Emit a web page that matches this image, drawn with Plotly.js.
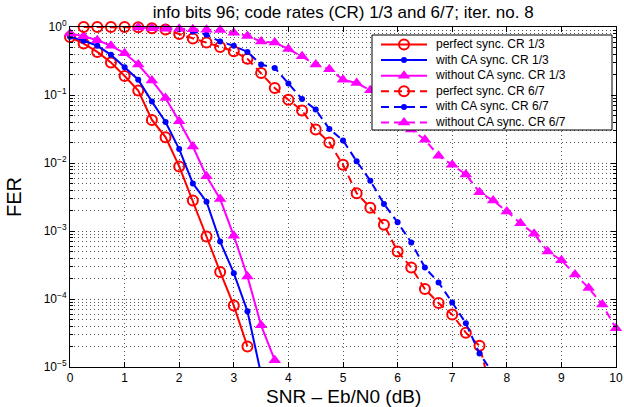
<!DOCTYPE html>
<html>
<head>
<meta charset="utf-8">
<script src="https://cdn.plot.ly/plotly-3.0.1.min.js"></script>
<style>html,body{margin:0;padding:0;background:#fff;}#chart{width:624px;height:407px;}</style>
</head>
<body>
<div id="chart"></div>
<script>
// ---- data (SNR in dB, FER) ----
var snrPerf13 = [0,0.25,0.5,0.75,1,1.25,1.5,1.75,2,2.25,2.5,2.75,3,3.25];
var ferPerf13 = [0.71,0.57,0.43,0.30,0.19,0.116,0.043,0.024,0.0089,0.0028,0.00083,0.00025,0.00008,0.00002];

var snrCA13 = [0,0.25,0.5,0.75,1,1.25,1.5,1.75,2,2.25,2.5,2.75,3,3.25,3.5];
var ferCA13 = [0.72,0.63,0.53,0.39,0.255,0.168,0.08,0.04,0.016,0.005,0.0027,0.0007,0.00024,0.000066,0.0000078];

var snrNoCA13 = [0,0.25,0.5,0.75,1,1.25,1.5,1.75,2,2.25,2.5,2.75,3,3.25,3.5,3.75];
var ferNoCA13 = [0.8,0.73,0.64,0.53,0.41,0.28,0.164,0.09,0.041,0.0175,0.0064,0.00295,0.00085,0.000215,0.000041,0.0000126];

var snrPerf67 = [0.25,0.5,0.75,1,1.25,1.5,1.75,2,2.25,2.5,2.75,3,3.25,3.5,3.75,4,4.25,4.5,4.75,5,5.25,5.5,5.75,6,6.25,6.5,6.75,7,7.25,7.5,7.75];
var ferPerf67 = [1,1,1,1,0.99,0.96,0.92,0.79,0.68,0.59,0.51,0.44,0.34,0.21,0.127,0.085,0.059,0.031,0.02,0.0094,0.0036,0.0022,0.00124,0.0005,0.00029,0.00014,0.000087,0.000059,0.000032,0.0000205,0.0000034];

var snrCA67 = [1.25,1.5,1.75,2,2.25,2.5,2.75,3,3.25,3.5,3.75,4,4.25,4.5,4.75,5,5.25,5.5,5.75,6,6.25,6.5,6.75,7,7.25,7.5,7.75];
var ferCA67 = [1,0.98,0.96,0.93,0.86,0.77,0.61,0.53,0.43,0.28,0.25,0.147,0.087,0.061,0.0316,0.0215,0.0106,0.0055,0.0025,0.00134,0.00068,0.00029,0.000175,0.000089,0.000044,0.0000158,0.000008];

var snrNoCA67 = [1.25,1.5,1.75,2,2.25,2.5,2.75,3,3.25,3.5,3.75,4,4.25,4.5,4.75,5,5.25,5.5,5.75,6,6.25,6.5,6.75,7,7.25,7.5,7.75,8,8.25,8.5,8.75,9,9.25,9.5,9.75,10];
var ferNoCA67 = [0.98,0.96,0.94,0.94,0.93,0.91,0.90,0.82,0.74,0.61,0.59,0.475,0.37,0.28,0.24,0.168,0.15,0.117,0.08,0.05,0.031,0.022,0.0128,0.0094,0.0068,0.0037,0.0028,0.00194,0.0013,0.00091,0.0005,0.00037,0.00023,0.000145,0.000083,0.000037];

var seriesNames = ['perfect sync. CR 1/3','with CA sync. CR 1/3','without CA sync. CR 1/3',
                   'perfect sync. CR 6/7','with CA sync. CR 6/7','without CA sync. CR 6/7'];
var yTickVals = [1e-5,1e-4,1e-3,1e-2,1e-1,1];
var yTickText = ['10<sup>\u22125</sup>','10<sup>\u22124</sup>','10<sup>\u22123</sup>','10<sup>\u22122</sup>','10<sup>\u22121</sup>','10<sup>0</sup>'];
var xTickVals = [0,1,2,3,4,5,6,7,8,9,10];
var titleText = 'info bits 96; code rates (CR) 1/3 and 6/7; iter. no. 8';
var xTitleText = 'SNR \u2013 Eb/N0 (dB)';
var yTitleText = 'FER';

// ---- styles ----
var RED = '#ff0000', BLUE = '#0000ff', MAG = '#ff00ff';
var DASH = '8px,5px';
var mkCircle = {symbol:'circle-open', size:10, color:RED, line:{width:2, color:RED}};
var mkDot = {symbol:'circle', size:6, color:BLUE};
var mkTri = {symbol:'triangle-up', size:11, color:MAG};
var styles = [
  {color:RED, dash:'solid', marker:mkCircle},
  {color:BLUE, dash:'solid', marker:mkDot},
  {color:MAG, dash:'solid', marker:mkTri},
  {color:RED, dash:DASH, marker:mkCircle},
  {color:BLUE, dash:DASH, marker:mkDot},
  {color:MAG, dash:DASH, marker:mkTri}
];
var xs = [snrPerf13, snrCA13, snrNoCA13, snrPerf67, snrCA67, snrNoCA67];
var ys = [ferPerf13, ferCA13, ferNoCA13, ferPerf67, ferCA67, ferNoCA67];

var data = [];
for (var i = 0; i < 6; i++) {
  data.push({x:xs[i], y:ys[i], name:seriesNames[i], type:'scatter', mode:'lines+markers',
             cliponaxis:false, showlegend:false, hoverinfo:'skip',
             line:{color:styles[i].color, width:2, dash:styles[i].dash}, marker:styles[i].marker});
}

// ---- legend drawn in an overlay subplot (plot-area fractions) ----
var W = 624, H = 407, ML = 70, MR = 8, MT = 27, MB = 40;
var PW = W - ML - MR, PH = H - MT - MB;
function U(px){ return (px - ML) / PW; }
function V(py){ return 1 - (py - MT) / PH; }
var LFS = 12;                      // legend font size
var rowPitch = LFS * 1.3;          // matches annotation line spacing
var boxL = 372, boxR = 612, boxT = 35, boxB = 130;
var rowY0 = 44.5, sampL = 381, sampR = 427, textX = 433;

data.push({x:[U(boxL),U(boxR),U(boxR),U(boxL),U(boxL)], y:[V(boxT),V(boxT),V(boxB),V(boxB),V(boxT)],
           xaxis:'x2', yaxis:'y2', type:'scatter', mode:'lines', fill:'toself', fillcolor:'#fff',
           line:{color:'#000', width:1}, showlegend:false, hoverinfo:'skip'});
for (var j = 0; j < 6; j++) {
  var ry = V(rowY0 + j * rowPitch);
  data.push({x:[U(sampL), U(sampR)], y:[ry, ry], xaxis:'x2', yaxis:'y2', type:'scatter', mode:'lines',
             line:{color:styles[j].color, width:2, dash:styles[j].dash}, showlegend:false, hoverinfo:'skip'});
  data.push({x:[U((sampL + sampR) / 2)], y:[ry], xaxis:'x2', yaxis:'y2', type:'scatter', mode:'markers',
             marker:styles[j].marker, showlegend:false, hoverinfo:'skip', cliponaxis:false});
}
var annotations = [
  {text:seriesNames.join('<br>'), xref:'paper', yref:'paper', x:U(textX),
   y:V(rowY0 + 2.5 * rowPitch), xanchor:'left', yanchor:'middle', align:'left',
   showarrow:false, font:{size:LFS, color:'#000'}},
  {text:xTitleText, xref:'paper', yref:'paper', x:0.5, y:V(396.5), xanchor:'center', yanchor:'middle',
   showarrow:false, borderpad:0, font:{size:19, color:'#000'}}
];

var FONT = '"Liberation Sans", Arial, Helvetica, sans-serif';
var GRID = '#555';
var layout = {
  width:W, height:H,
  margin:{l:ML, r:MR, t:MT, b:MB, pad:0},
  paper_bgcolor:'#fff', plot_bgcolor:'#fff',
  font:{family:FONT, size:12, color:'#000'},
  showlegend:false,
  title:{text:titleText, font:{family:FONT, size:17, color:'#000'},
         x:0.55, xref:'container', xanchor:'center', y:0.97, yref:'container', yanchor:'middle'},
  xaxis:{range:[0,10], tickvals:xTickVals, ticks:'inside', ticklen:5, tickcolor:'#000',
         showline:true, linecolor:'#000', linewidth:1, mirror:'allticks',
         showgrid:true, gridcolor:GRID, griddash:'1px,3px', gridwidth:1, zeroline:false,
         tickfont:{size:12}, automargin:false},
  yaxis:{type:'log', range:[-5,0], tickvals:yTickVals, ticktext:yTickText,
         ticks:'inside', ticklen:5, tickcolor:'#000',
         showline:true, linecolor:'#000', linewidth:1, mirror:'allticks',
         showgrid:true, gridcolor:GRID, griddash:'1px,3px', gridwidth:1, zeroline:false,
         tickfont:{size:12}, automargin:false,
         minor:{dtick:'D1', ticks:'inside', ticklen:3, tickcolor:'#000',
                showgrid:true, gridcolor:GRID, griddash:'1px,3px', gridwidth:1},
         title:{text:yTitleText, font:{size:20}, standoff:16}},
  xaxis2:{overlaying:'x', anchor:'y2', range:[0,1], visible:false, fixedrange:true},
  yaxis2:{overlaying:'y', anchor:'x2', range:[0,1], visible:false, fixedrange:true},
  annotations:annotations
};

Plotly.newPlot('chart', data, layout, {displayModeBar:false, staticPlot:true});
</script>
</body>
</html>
